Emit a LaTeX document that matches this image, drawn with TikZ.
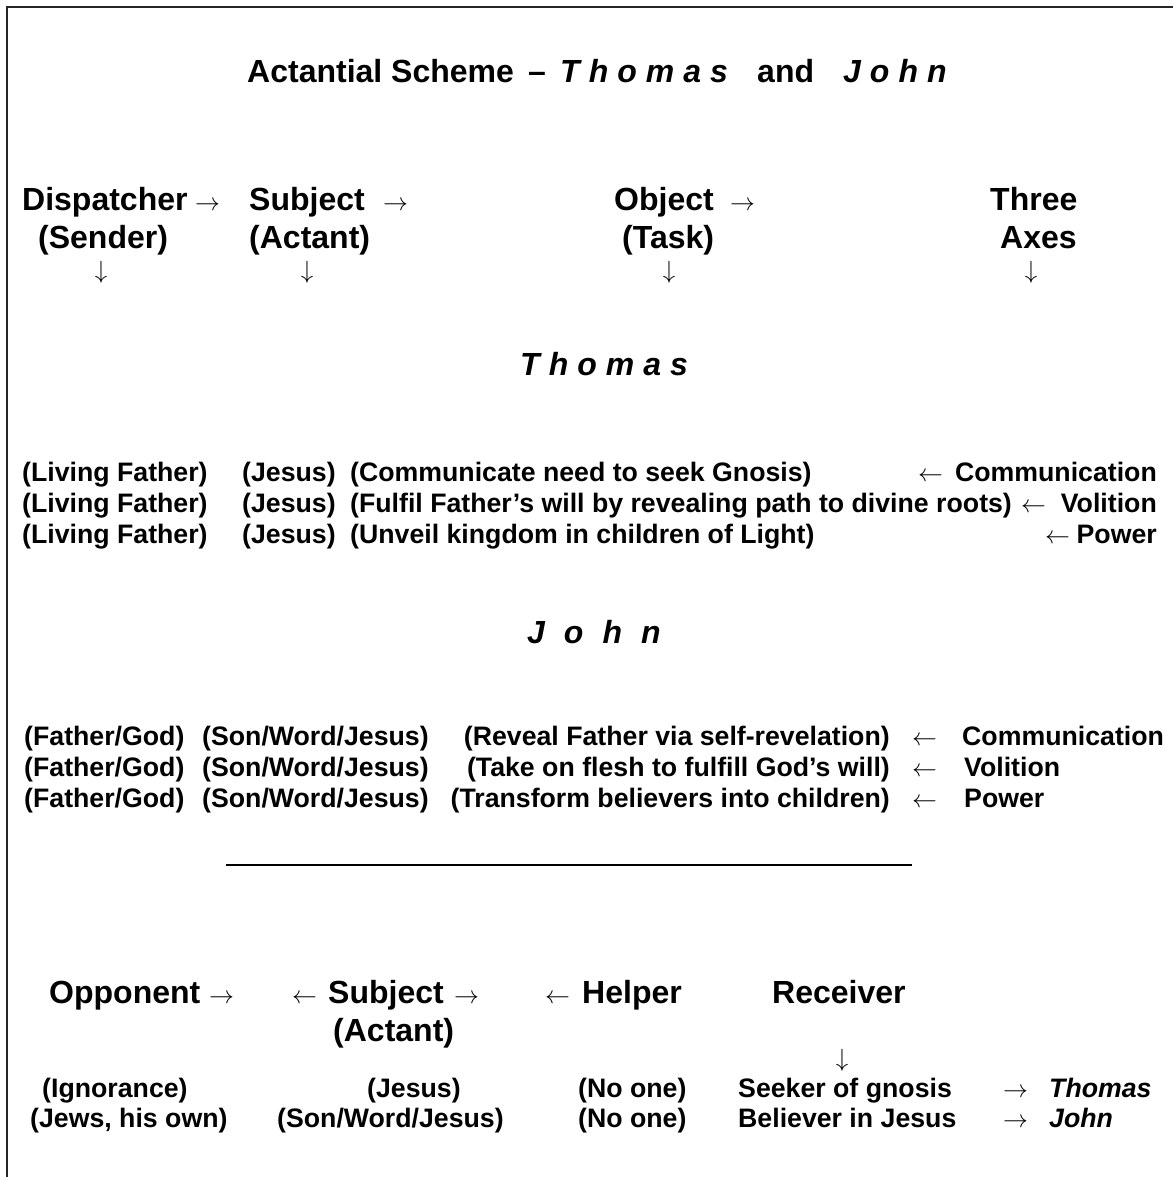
\documentclass[tikz,border=0pt]{standalone}
\usepackage{fontspec}
\setmainfont{Liberation Sans}
\newcommand\myra{{\fontsize{26}{30}\selectfont$\rightarrow$}}
\newcommand\myla{{\fontsize{26}{30}\selectfont$\leftarrow$}}
\newcommand\mydn{{\fontsize{26}{30}\selectfont$\downarrow$}}
\newcommand\gp[1]{\hspace{#1pt}}
\tikzset{
  hd/.style={font=\fontsize{32}{38}\selectfont\bfseries, inner sep=0pt, anchor=base west},
  hdi/.style={hd, font=\fontsize{32}{38}\selectfont\bfseries\itshape},
  dt/.style={font=\fontsize{26.7}{32}\selectfont\bfseries, inner sep=0pt, anchor=base west},
  dte/.style={dt, anchor=base east},
  dti/.style={dt, font=\fontsize{26.7}{32}\selectfont\bfseries\itshape},
  arr/.style={inner sep=0pt, anchor=base west},
  dn/.style={inner sep=0pt, anchor=center},
  frame/.style={line width=2.2pt, draw=black!85}
}
\begin{document}
\begin{tikzpicture}[x=1pt,y=-1pt]
\useasboundingbox (0,0) rectangle (1173,1177);
\draw[frame] (7,1177) -- (7,7) -- (1173,7);
% title
\node[hd] (t1) at (247,83) {Actantial Scheme};
\node[hd] (t2) at (528,83) {–};
\node[hdi] (t3) at (560,83) {T\gp{9}h\gp{9}o\gp{9}m\gp{9}a\gp{9}s};
\node[hd] (t4) at (757,83) {and};
\node[hdi] (t5) at (843,83) {J\gp{9}o\gp{9}h\gp{9}n};
% header row
\node[hd] (h1) at (22,210) {Dispatcher};
\node[arr] (h1a) at (195,210) {\myra};
\node[hd] (h2) at (249,210) {Subject};
\node[arr] (h2a) at (383,210) {\myra};
\node[hd] (h3) at (614,210) {Object};
\node[arr] (h3a) at (730,210) {\myra};
\node[hd] (h4) at (990,210) {Three};
\node[hd] (s1) at (38,248) {(Sender)};
\node[hd] (s2) at (249,248) {(Actant)};
\node[hd] (s3) at (622,248) {(Task)};
\node[hd] (s4) at (1000,248) {Axes};
\node[dn] (d1) at (101,272) {\mydn};
\node[dn] (d2) at (307,272) {\mydn};
\node[dn] (d3) at (669,272) {\mydn};
\node[dn] (d4) at (1031,272) {\mydn};
% Thomas
\node[hdi] (th) at (520,375) {T\gp{9}h\gp{9}o\gp{9}m\gp{9}a\gp{9}s};
\node[dt] (ta1) at (22,481) {(Living Father)};
\node[dt] (tb1) at (242,481) {(Jesus)};
\node[dt] (tc1) at (350,481) {(Communicate need to seek Gnosis)};
\node[arr] (tx1) at (918,481) {\myla};
\node[dte] (td1) at (1157,481) {Communication};
\node[dt] (ta2) at (22,512) {(Living Father)};
\node[dt] (tb2) at (242,512) {(Jesus)};
\node[dt] (tc2) at (350,512) {(Fulfil Father’s will by revealing path to divine roots)};
\node[arr] (tx2) at (1021,512) {\myla};
\node[dte] (td2) at (1157,512) {Volition};
\node[dt] (ta3) at (22,543) {(Living Father)};
\node[dt] (tb3) at (242,543) {(Jesus)};
\node[dt] (tc3) at (350,543) {(Unveil kingdom in children of Light)};
\node[arr] (tx3) at (1045,543) {\myla};
\node[dte] (td3) at (1157,543) {Power};
% John
\node[hdi] (jh) at (527,643) {J\gp{19}o\gp{19}h\gp{19}n};
\node[dt] (ja1) at (24,745) {(Father/God)};
\node[dt] (jb1) at (202,745) {(Son/Word/Jesus)};
\node[dte] (jc1) at (890,745) {(Reveal Father via self-revelation)};
\node[arr] (jx1) at (912,745) {\myla};
\node[dt] (jd1) at (962,745) {Communication};
\node[dt] (ja2) at (24,776) {(Father/God)};
\node[dt] (jb2) at (202,776) {(Son/Word/Jesus)};
\node[dte] (jc2) at (890,776) {(Take on flesh to fulfill God’s will)};
\node[arr] (jx2) at (912,776) {\myla};
\node[dt] (jd2) at (964,776) {Volition};
\node[dt] (ja3) at (24,807) {(Father/God)};
\node[dt] (jb3) at (202,807) {(Son/Word/Jesus)};
\node[dte] (jc3) at (890,807) {(Transform believers into children)};
\node[arr] (jx3) at (912,807) {\myla};
\node[dt] (jd3) at (964,807) {Power};
% separator
\coordinate (la) at (226,865);
\coordinate (lb) at (912,865);
\draw[line width=2pt] (la) -- (lb);
% bottom headers
\node[hd] (b1) at (49,1003) {Opponent};
\node[arr] (b1a) at (209,1003) {\myra};
\node[arr] (b2l) at (292,1003) {\myla};
\node[hd] (b2) at (328,1003) {Subject};
\node[arr] (b2a) at (454,1003) {\myra};
\node[arr] (b3l) at (545,1003) {\myla};
\node[hd] (b3) at (582,1003) {Helper};
\node[hd] (b4) at (772,1003) {Receiver};
\node[hd] (b2s) at (333,1041) {(Actant)};
\node[dn] (b4d) at (842,1060) {\mydn};
% bottom data
\node[dt] (r11) at (42,1097) {(Ignorance)};
\node[dt] (r12) at (367,1097) {(Jesus)};
\node[dt] (r13) at (578,1097) {(No one)};
\node[dt] (r14) at (738,1097) {Seeker of gnosis};
\node[arr] (r15) at (1003,1097) {\myra};
\node[dti] (r16) at (1049,1097) {Thomas};
\node[dt] (r21) at (30,1127) {(Jews, his own)};
\node[dt] (r22) at (277,1127) {(Son/Word/Jesus)};
\node[dt] (r23) at (578,1127) {(No one)};
\node[dt] (r24) at (738,1127) {Believer in Jesus};
\node[arr] (r25) at (1003,1127) {\myra};
\node[dti] (r26) at (1049,1127) {John};
\end{tikzpicture}
\end{document}
